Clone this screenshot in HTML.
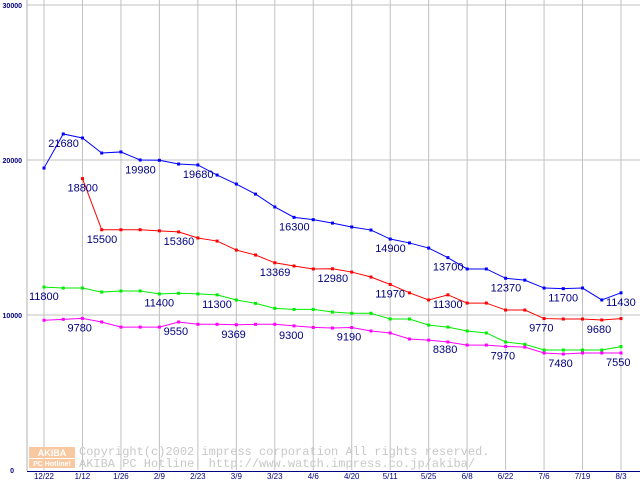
<!DOCTYPE html>
<html><head><meta charset="utf-8"><style>
body{margin:0;background:#fff;}
svg{display:block;}
text{font-family:"Liberation Sans","DejaVu Sans",sans-serif;}
text.mono{font-family:"Liberation Mono",monospace;}
</style></head><body>
<svg id="chart" width="640" height="480" xmlns="http://www.w3.org/2000/svg">
<rect width="640" height="480" fill="#fff"/>
<g id="grid"></g>
<g id="axes"></g>
<g id="logo">
<rect x="29" y="447" width="46" height="11" fill="#f8c8a0"/>
<text x="52" y="456" font-size="9" fill="#fff" text-anchor="middle" font-weight="bold">AKIBA</text>
<rect x="29" y="459" width="46" height="9" fill="#f8c8a0"/>
<text x="52" y="466" font-size="7" fill="#fff" text-anchor="middle" font-weight="bold">PC Hotline!</text>
</g>
<text class="mono" x="79" y="455" font-size="12" fill="#c8c8c8">Copyright(c)2002 impress corporation All rights reserved.</text>
<text class="mono" x="79" y="467" font-size="12" fill="#c8c8c8">AKIBA PC Hotline!  http://www.watch.impress.co.jp/akiba/</text>
<g id="series"></g>
<g id="labels"></g>
</svg>
<script>
const categories=["12/22","","1/12","","1/26","","2/9","","2/23","","3/9","","3/23","","4/6","","4/20","","5/11","","5/25","","6/8","","6/22","","7/6","","7/19","","8/3"];
const yTicks=[0,10000,20000,30000];
const blueValues=[19480,21680,21420,20450,20520,20000,19980,19740,19680,19030,18450,17800,16970,16300,16150,15930,15680,15480,14900,14650,14320,13700,12970,12970,12370,12250,11740,11700,11740,10970,11430];
const redValues=[null,null,18800,15500,15500,15500,15430,15360,14970,14770,14190,13870,13369,13160,12970,12980,12770,12450,11970,11430,10970,11300,10770,10770,10320,10320,9770,9740,9740,9680,9770];
const greenValues=[11800,11740,11740,11480,11550,11550,11360,11400,11360,11300,10970,10750,10430,10360,10360,10190,10110,10110,9740,9740,9350,9220,8970,8840,8260,8110,7740,7740,7740,7740,7960];
const magentaValues=[9660,9720,9780,9550,9220,9220,9220,9550,9400,9400,9369,9400,9400,9300,9200,9160,9190,8970,8840,8450,8380,8260,8060,8060,7970,7930,7550,7480,7550,7550,7550];
const labelTexts=["21680","18800","19980","19680","15500","15360","16300","13369","11800","11400","11300","9780","9550","9369","9300","12980","14900","13700","12370","11970","11300","11700","11430","9770","9680","9190","8380","7970","7480","7550"];
const labelIdx=[1,2,5,8,3,7,13,12,0,6,9,2,7,10,13,15,18,21,24,18,21,27,30,26,29,16,21,24,27,30];
const labelVals=[21680,18800,19980,19680,15500,15360,16300,13369,11800,11400,11300,9780,9550,9369,9300,12980,14900,13700,12370,11970,11300,11700,11430,9770,9680,9190,8380,7970,7480,7550];
const NS="http://www.w3.org/2000/svg";
const x=i=>44+i*(577/30);
const y=v=>470-v*0.0155;
function mk(tag,attrs,parent){const e=document.createElementNS(NS,tag);for(const k in attrs)e.setAttribute(k,attrs[k]);parent.appendChild(e);return e;}
const grid=document.getElementById('grid'),axes=document.getElementById('axes');
yTicks.forEach(t=>{
 if(t>0){const l=mk('line',{x1:27,x2:640,y1:y(t),y2:y(t),stroke:'#c0c0c0'},grid);
 
 }
 const tx=mk('text',{x:t===0?14:22,y:y(t)+3,'font-size':7,'font-weight':'bold',fill:'#000080','text-anchor':'end'},axes);
 tx.textContent=t;
 
 
});
categories.forEach((c,i)=>{
 if(i%2)return;
 const l=mk('line',{x1:x(i),x2:x(i),y1:0,y2:470,stroke:'#c0c0c0'},grid);
 
 
 const tx=mk('text',{x:x(i),y:479,'font-size':8,fill:'#000080','text-anchor':'middle'},axes);
 tx.textContent=c;
 
 
});
const va=mk('line',{x1:27,x2:27,y1:0,y2:471,stroke:'#b0b0b0'},axes);


const ha=mk('line',{x1:27,x2:640,y1:471.5,y2:471.5,stroke:'#000080'},axes);


const sg=document.getElementById('series');
[[blueValues,'#0000ff','blue'],[redValues,'#ff0000','red'],[greenValues,'#00ee00','green'],[magentaValues,'#ff00ff','magenta']].forEach(([vals,col,nm])=>{
 let pts=[];vals.forEach((v,i)=>{if(v!=null)pts.push(x(i)+','+y(v));});
 const pl=mk('polyline',{points:pts.join(' '),fill:'none',stroke:col,'stroke-width':1},sg);
 
 
 vals.forEach((v,i)=>{if(v==null)return;
  const r=mk('rect',{x:x(i)-1.5,y:y(v)-1.5,width:3,height:3,fill:col},sg);
  
  
 });
});
const lg=document.getElementById('labels');
labelTexts.forEach((t,k)=>{
 const tx=mk('text',{x:x(labelIdx[k])-15,y:y(labelVals[k])+13,'font-size':11,fill:'#000080'},lg);
 tx.textContent=t;
 
 
});
</script>
</body></html>
